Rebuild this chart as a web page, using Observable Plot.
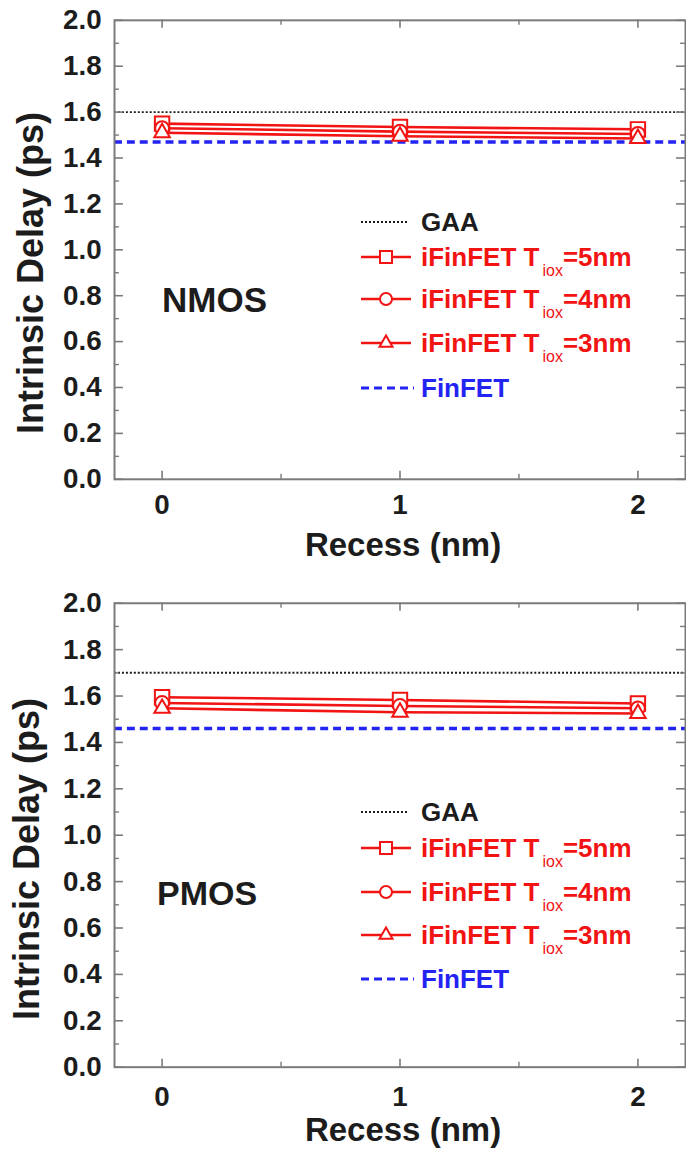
<!DOCTYPE html>
<html>
<head>
<meta charset="utf-8">
<script src="https://cdn.jsdelivr.net/npm/d3@7"></script>
<script src="https://cdn.jsdelivr.net/npm/@observablehq/plot@0.6"></script>
<style>
  html, body { margin: 0; padding: 0; background: #fff; overflow: hidden; }
  #wrap { position: relative; width: 686px; height: 1150px; overflow: hidden; }
  #wrap > svg, #wrap > figure, #wrap > div { position: absolute; left: 0; margin: 0; }
</style>
</head>
<body>
<div id="wrap"></div>
<script>
// ---------- data ----------
const recess = [0, 1, 2];                      // Recess (nm)
const nmosGAA = 1.60;
const nmosFinFET = 1.47;
const nmosT5 = [1.550, 1.535, 1.525];
const nmosT4 = [1.530, 1.515, 1.505];
const nmosT3 = [1.510, 1.495, 1.485];
const pmosGAA = 1.70;
const pmosFinFET = 1.46;
const pmosT5 = [1.595, 1.583, 1.568];
const pmosT4 = [1.570, 1.557, 1.547];
const pmosT3 = [1.547, 1.530, 1.525];
const yTicks = [0.0, 0.2, 0.4, 0.6, 0.8, 1.0, 1.2, 1.4, 1.6, 1.8, 2.0];
const yMinor = [0.1, 0.3, 0.5, 0.7, 0.9, 1.1, 1.3, 1.5, 1.7, 1.9];
const xTicks = [0, 1, 2];
const xMinor = [0.5, 1.5];
const seriesKeys = ["T5", "T4", "T3"];
const seriesThk = ["5nm", "4nm", "3nm"];
const deviceNames = ["NMOS", "PMOS"];
const xTitle = "Recess (nm)";
const yTitle = "Intrinsic Delay (ps)";

// ---------- style ----------
const FONT = '"Liberation Sans", Arial, Helvetica, sans-serif';
const RED = "#f21313";
const BLUE = "#2323f4";
const BLACK = "#1c1c1c";
const GRAY = "#7a7a7a";
const W = 692, H = 575, ML = 115, MR = 1;

const wrap = document.getElementById("wrap");

function panel(cfg) {
  const plotW = W - ML - MR;
  const plotH = H - cfg.mt - cfg.mb;
  const rows = [];
  cfg.series.forEach((vals, k) =>
    recess.forEach((r, i) => rows.push({series: seriesKeys[k], recess: r, delay: vals[i]})));
  const sel = key => rows.filter(d => d.series === key);
  const chart = Plot.plot({
    width: W, height: H,
    marginLeft: ML, marginRight: MR, marginTop: cfg.mt, marginBottom: cfg.mb,
    x: {domain: [-0.2, 2.2]},
    y: {domain: [0, 2]},
    style: {fontFamily: FONT, fontWeight: "bold", color: BLACK, background: "transparent", overflow: "visible"},
    marks: [
      Plot.ruleY([cfg.fin], {y: d => d, stroke: BLUE, strokeWidth: 3.5, strokeDasharray: "8,5"}),
      Plot.ruleY([cfg.gaa], {y: d => d, stroke: BLACK, strokeWidth: 2, strokeDasharray: "2,2"}),
      Plot.line(rows, {x: "recess", y: "delay", z: "series", stroke: RED, strokeWidth: 2.6}),
      Plot.dot(sel("T5"), {x: "recess", y: "delay", symbol: "square", r: 8.2, stroke: RED, strokeWidth: 2, fill: "white"}),
      Plot.dot(sel("T4"), {x: "recess", y: "delay", symbol: "circle", r: 7, stroke: RED, strokeWidth: 2, fill: "white"}),
      Plot.dot(sel("T3"), {x: "recess", y: "delay", symbol: "triangle", r: 5.8, stroke: RED, strokeWidth: 2, fill: "white"}),
      Plot.frame({stroke: GRAY, strokeWidth: 2}),
      // inward ticks (left / right)
      Plot.ruleY(yTicks, {y: d => d, insetRight: plotW - 9, stroke: GRAY, strokeWidth: 1.6}),
      Plot.ruleY(yMinor, {y: d => d, insetRight: plotW - 5, stroke: GRAY, strokeWidth: 1.4}),
      Plot.ruleY(yTicks, {y: d => d, insetLeft: plotW - 9, stroke: GRAY, strokeWidth: 1.6}),
      Plot.ruleY(yMinor, {y: d => d, insetLeft: plotW - 5, stroke: GRAY, strokeWidth: 1.4}),
      // inward ticks (bottom / top)
      Plot.ruleX(xTicks, {x: d => d, insetTop: plotH - 8, stroke: GRAY, strokeWidth: 1.6}),
      Plot.ruleX(xMinor, {x: d => d, insetTop: plotH - 5, stroke: GRAY, strokeWidth: 1.4}),
      Plot.ruleX(xTicks, {x: d => d, insetBottom: plotH - 8, stroke: GRAY, strokeWidth: 1.6}),
      Plot.ruleX(xMinor, {x: d => d, insetBottom: plotH - 5, stroke: GRAY, strokeWidth: 1.4}),
      Plot.axisY(yTicks, {tickSize: 0, tickPadding: 13, tickFormat: d3.format(".1f"), fontSize: 28, label: null}),
      Plot.axisX(xTicks, {tickSize: 0, tickPadding: cfg.xPad, tickFormat: d => String(d), fontSize: 28, label: null})
    ]
  });
  chart.style.top = cfg.top + "px";
  wrap.appendChild(chart);
}

panel({top: 0, mt: 20, mb: 92, xPad: 15, gaa: nmosGAA, fin: nmosFinFET, series: [nmosT5, nmosT4, nmosT3]});
panel({top: 575, mt: 28, mb: 79, xPad: 19, gaa: pmosGAA, fin: pmosFinFET, series: [pmosT5, pmosT4, pmosT3]});

// ---------- titles, device labels, legends (overlay) ----------
const ov = d3.select(wrap).append("svg")
  .attr("width", 686).attr("height", 1150)
  .style("top", "0px").style("pointer-events", "none")
  .attr("font-family", FONT).attr("font-weight", "bold");

const layout = [
  {yt: [43, 273], xt: [403, 556], dev: [162, 312, 35], rows: [222, 257, 299, 343, 388]},
  {yt: [39, 859], xt: [403, 1141], dev: [157, 905, 34], rows: [812, 848, 892, 935, 979]}
];

const symSquare = d3.symbol(d3.symbolSquare, 144)();
const symCircle = d3.symbol(d3.symbolCircle, 113)();
const symTri = d3.symbol(d3.symbolTriangle, 73)();
const legendSyms = [symSquare, symCircle, symTri];

layout.forEach((L, p) => {
  ov.append("text").attr("transform", `translate(${L.yt[0]},${L.yt[1]}) rotate(-90)`)
    .attr("text-anchor", "middle").attr("font-size", 36).attr("fill", BLACK).text(yTitle);
  ov.append("text").attr("x", L.xt[0]).attr("y", L.xt[1])
    .attr("text-anchor", "middle").attr("font-size", 33).attr("fill", BLACK).text(xTitle);
  ov.append("text").attr("x", L.dev[0]).attr("y", L.dev[1])
    .attr("font-size", L.dev[2]).attr("fill", BLACK).text(deviceNames[p]);

  const x0 = 361, x1 = 411, tx = 421, fs = 26, base = 9;
  // GAA
  ov.append("line").attr("x1", x0).attr("x2", x1 - 2).attr("y1", L.rows[0]).attr("y2", L.rows[0])
    .attr("stroke", BLACK).attr("stroke-width", 2).attr("stroke-dasharray", "2,2");
  ov.append("text").attr("x", tx).attr("y", L.rows[0] + base).attr("font-size", fs).attr("fill", BLACK).text("GAA");
  // iFinFET rows
  seriesThk.forEach((thk, k) => {
    const y = L.rows[k + 1];
    ov.append("line").attr("x1", x0).attr("x2", x1).attr("y1", y).attr("y2", y)
      .attr("stroke", RED).attr("stroke-width", 2.5);
    ov.append("path").attr("d", legendSyms[k]).attr("transform", `translate(${(x0 + x1) / 2},${y})`)
      .attr("fill", "white").attr("stroke", RED).attr("stroke-width", 2);
    const t = ov.append("text").attr("x", tx).attr("y", y + base).attr("font-size", fs).attr("fill", RED);
    t.append("tspan").text("iFinFET T");
    t.append("tspan").attr("font-size", 16).attr("font-weight", "normal").attr("dx", 3).attr("dy", 10).text("iox");
    t.append("tspan").attr("dy", -10).text("=" + thk);
  });
  // FinFET
  const yf = L.rows[4];
  ov.append("line").attr("x1", x0).attr("x2", x1 + 3).attr("y1", yf).attr("y2", yf)
    .attr("stroke", BLUE).attr("stroke-width", 3).attr("stroke-dasharray", "8,5");
  ov.append("text").attr("x", tx).attr("y", yf + base).attr("font-size", fs).attr("fill", BLUE).text("FinFET");
});
</script>
</body>
</html>
